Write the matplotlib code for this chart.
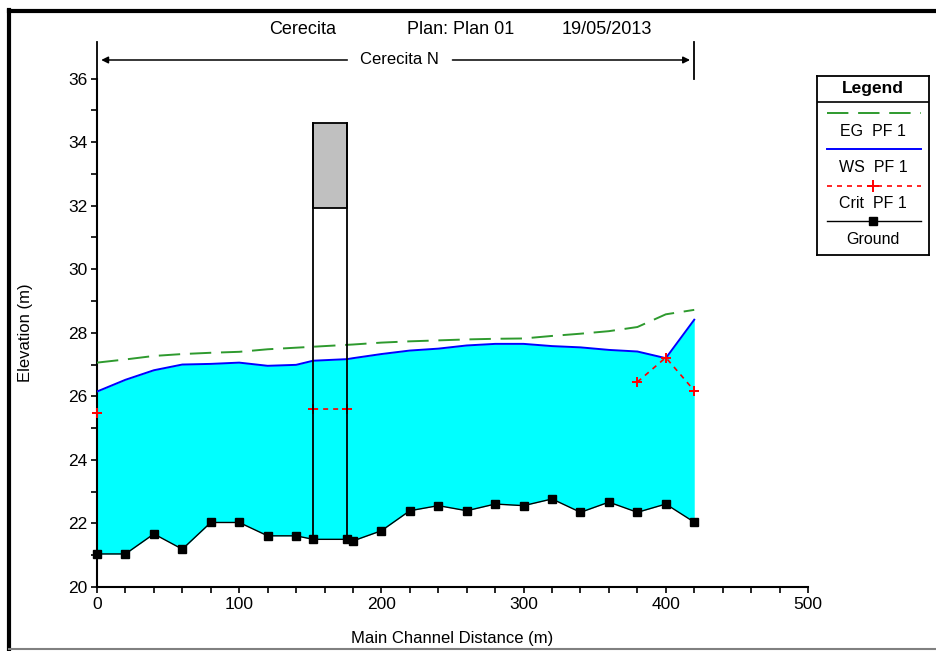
"""HEC-RAS style water surface profile — Cerecita, Plan 01."""

import matplotlib

matplotlib.use("Agg")
import matplotlib.pyplot as plt
import numpy as np
from matplotlib.lines import Line2D
from matplotlib.patches import Rectangle

plt.rcParams["font.family"] = ["Liberation Sans", "DejaVu Sans"]

# stations along the main channel (m)
station = [0, 20, 40, 60, 80, 100, 120, 140, 152, 176, 180, 200, 220, 240,
           260, 280, 300, 320, 340, 360, 380, 400, 420]
ground = [21.04, 21.04, 21.67, 21.19, 22.03, 22.03, 21.61, 21.61, 21.50, 21.50,
          21.45, 21.77, 22.40, 22.56, 22.40, 22.61, 22.56, 22.77, 22.35, 22.67,
          22.35, 22.61, 22.04]
ws = [26.15, 26.52, 26.82, 27.00, 27.02, 27.06, 26.96, 26.99, 27.12, 27.17,
      27.20, 27.33, 27.44, 27.50, 27.60, 27.65, 27.65, 27.58, 27.54, 27.46,
      27.41, 27.20, 28.41]
eg = [27.06, 27.16, 27.27, 27.33, 27.37, 27.40, 27.48, 27.53, 27.56, 27.62,
      27.63, 27.69, 27.73, 27.76, 27.79, 27.81, 27.82, 27.90, 27.97, 28.05,
      28.18, 28.58, 28.72]
# critical depth only where it was computed (NaN = not computed)
crit = [25.49, np.nan, np.nan, np.nan, np.nan, np.nan, np.nan, np.nan, 25.60,
        25.60, np.nan, np.nan, np.nan, np.nan, np.nan, np.nan, np.nan, np.nan,
        np.nan, np.nan, 26.45, 27.22, 26.18]

bridge_stations = [152, 176]
bridge_low_chord = 31.92
bridge_high_chord = 34.60

reach_name = "Cerecita N"
reach_start, reach_end = 0, 420
title_parts = ["Cerecita", "Plan: Plan 01", "19/05/2013"]

W, H = 937, 651
fig = plt.figure(figsize=(W / 100, H / 100), dpi=100)
ax = fig.add_axes([97 / W, 1 - 587 / H, (808 - 97) / W, (587 - 78.5) / H])

ax.fill_between(station, ground, ws, color="#00FFFF", lw=0, zorder=1)
ax.plot(station, eg, color="#2E9A2E", lw=1.4, ls=(0, (11, 5)), zorder=3)
ax.plot(station, ws, color="#0000FF", lw=1.4, zorder=3)
ax.plot(station, crit, color="#FF0000", lw=1.2, ls=(0, (3, 3)),
        marker="+", ms=7, mew=1.4, zorder=4, clip_on=False)
ax.plot(station, ground, color="black", lw=1.0, marker="s", ms=6, zorder=5,
        clip_on=False)

# bridge deck
bl, br = bridge_stations
ax.add_patch(Rectangle((bl, bridge_low_chord), br - bl,
                       bridge_high_chord - bridge_low_chord,
                       facecolor="#C0C0C0", edgecolor="black", lw=1.3, zorder=6))
for s in bridge_stations:
    g = ground[station.index(s)]
    ax.plot([s, s], [g, bridge_high_chord], color="black", lw=1.3, zorder=6)

ax.set_xlim(0, 500)
ax.set_ylim(20, 36)
ax.set_xticks(np.arange(0, 501, 100))
ax.set_xticks(np.arange(0, 501, 20), minor=True)
ax.set_yticks(np.arange(20, 37, 2))
ax.set_yticks(np.arange(20, 37, 1), minor=True)
ax.tick_params(which="both", direction="out", length=4, width=1.2,
               labelsize=12.5, pad=3)
for side in ("top", "right"):
    ax.spines[side].set_visible(False)
for side in ("left", "bottom"):
    ax.spines[side].set_linewidth(1.5)
ax.set_xlabel("Main Channel Distance (m)", fontsize=12, labelpad=14)
ax.set_ylabel("Elevation (m)", fontsize=12, labelpad=25)

# reach marker above the plot
top_y = 36 + (78.5 - 42) / 31.78
arr_y = 36 + (78.5 - 60) / 31.78
for s in (reach_start, reach_end):
    ax.plot([s, s], [36, top_y], color="black", lw=1.3, clip_on=False)
mid = 213
ax.text(mid, arr_y, reach_name, ha="center", va="center", fontsize=12)
ax.annotate("", xy=(reach_start + 1, arr_y), xytext=(mid - 35, arr_y),
            arrowprops=dict(arrowstyle="-|>", color="black", lw=1.1,
                            mutation_scale=10), annotation_clip=False)
ax.annotate("", xy=(reach_end - 1, arr_y), xytext=(mid + 35, arr_y),
            arrowprops=dict(arrowstyle="-|>", color="black", lw=1.1,
                            mutation_scale=10), annotation_clip=False)

for part, cx in zip(title_parts, [303, 461, 607]):
    fig.text(cx / W, 1 - 30 / H, part, ha="center", va="center", fontsize=13)

# legend box drawn by hand, HEC-RAS style
lg = fig.add_axes([817 / W, 1 - 255 / H, (929 - 817) / W, (255 - 76) / H])
lg.set_xlim(0, 112)
lg.set_ylim(179, 0)
lg.set_xticks([])
lg.set_yticks([])
for sp in lg.spines.values():
    sp.set_linewidth(1.3)
lg.axhline(26, color="black", lw=1.2)
lg.text(56, 12.5, "Legend", ha="center", va="center", fontsize=12.5,
        fontweight="bold")
entries = [
    ("EG  PF 1", dict(color="#2E9A2E", lw=1.4, ls=(0, (11, 5)))),
    ("WS  PF 1", dict(color="#0000FF", lw=1.4)),
    ("Crit  PF 1", dict(color="#FF0000", lw=1.2, ls=(0, (3, 3)))),
    ("Ground", dict(color="black", lw=1.0)),
]
line_y = [37, 73, 110, 145]
for (label, style), y in zip(entries, line_y):
    lg.add_line(Line2D([10, 104], [y, y], **style))
    lg.text(56, y + 18, label, ha="center", va="center", fontsize=11.5)
lg.plot([56], [line_y[2]], marker="+", color="#FF0000", ms=8, mew=1.4)
lg.plot([56], [line_y[3]], marker="s", color="black", ms=6)

# window frame
fig.add_artist(Line2D([9 / W, 9 / W], [0, 1 - 10 / H], color="black", lw=3.0,
                      zorder=0))
fig.add_artist(Line2D([9 / W, 1], [1 - 11 / H, 1 - 11 / H], color="black", lw=3.0,
                      zorder=0))
fig.add_artist(Line2D([9 / W, 1], [1 - 649 / H, 1 - 649 / H], color="#808080",
                      lw=1.5, zorder=0))

fig.savefig("out.png", dpi=100)
